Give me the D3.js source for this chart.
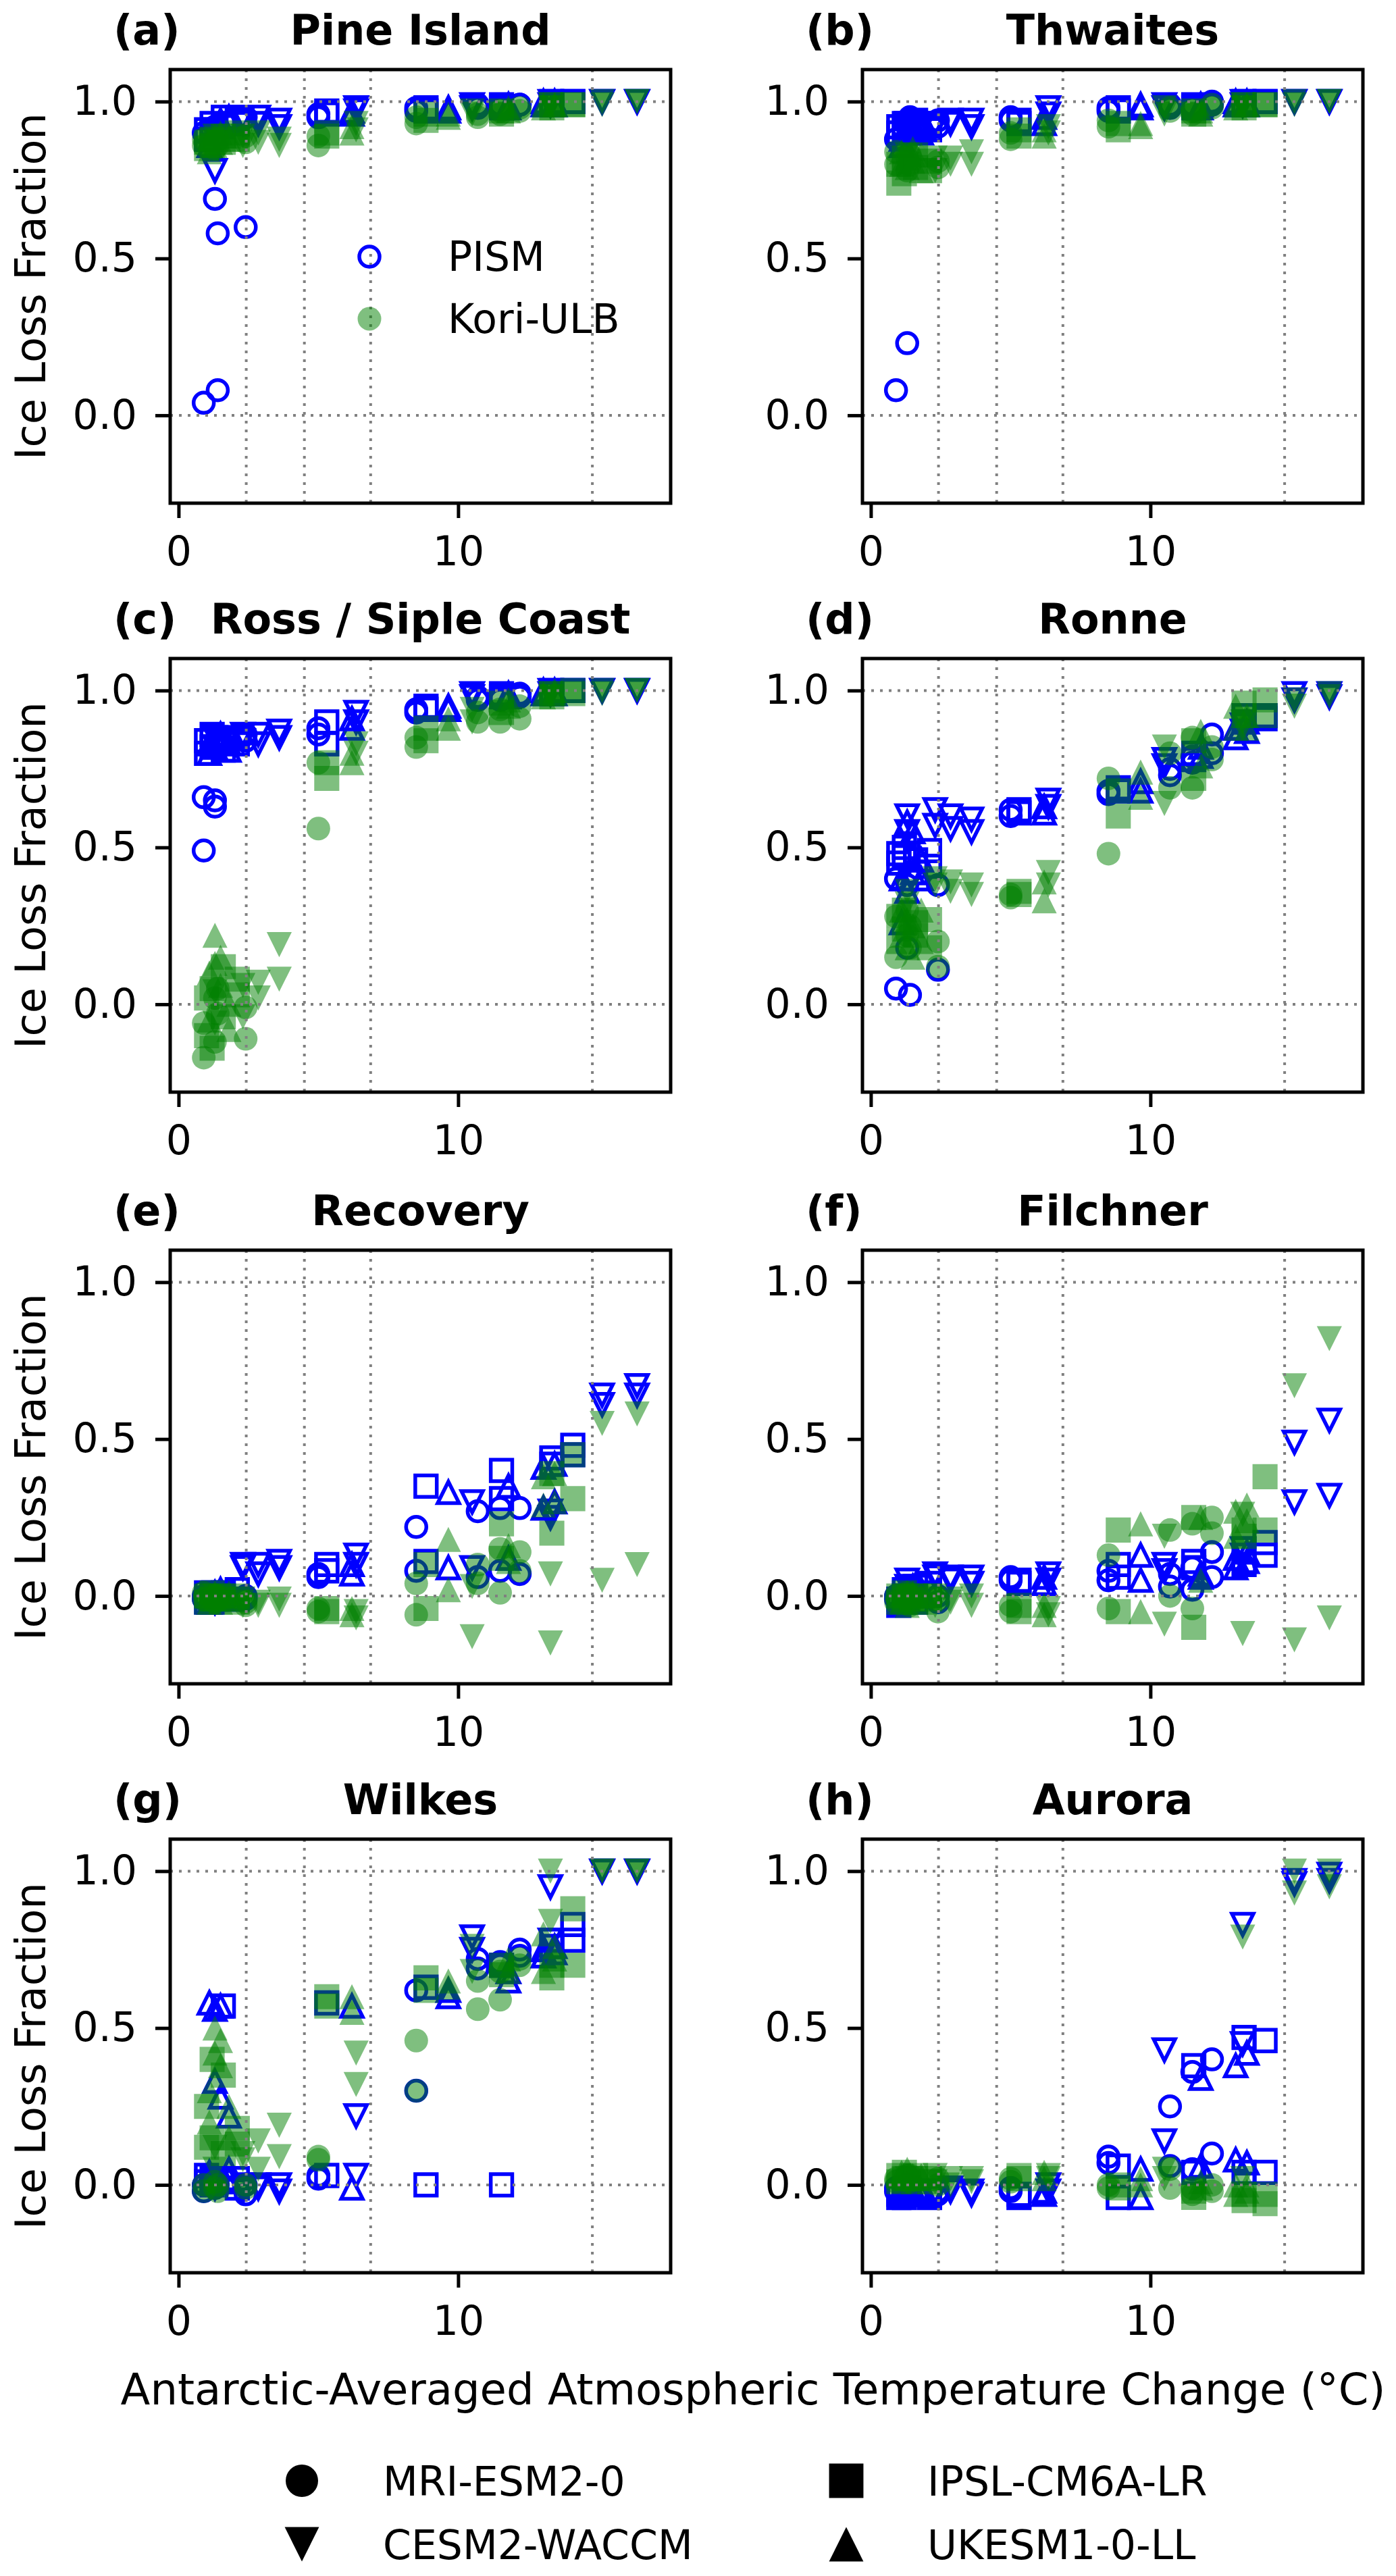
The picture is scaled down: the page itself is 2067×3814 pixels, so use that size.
<!DOCTYPE html>
<html>
<head>
<meta charset="utf-8">
<script src="https://d3js.org/d3.v7.min.js"></script>
<style>
  body { margin: 0; background: #fff; }
  text { font-family: "DejaVu Sans", sans-serif; }
</style>
</head>
<body>
<script>
// warming of each run, per climate model (low / mid / high forcing)
var tempMRI   = [0.9, 1.3, 1.4, 2.4, 5.0, 8.5, 10.7, 11.5, 12.2];
var tempIPSL  = [1.0, 1.2, 1.6, 2.1, 5.3, 8.85, 11.55, 13.35, 14.1];
var tempCESM  = [1.3, 2.3, 2.85, 3.6, 6.35, 10.5, 13.3, 15.15, 16.4];
var tempUKESM = [1.1, 1.3, 1.5, 1.8, 6.2, 9.65, 11.8, 13.05, 13.45];

var climateModels = ["MRI-ESM2-0", "IPSL-CM6A-LR", "CESM2-WACCM", "UKESM1-0-LL"];
var iceModels = ["PISM", "Kori-ULB"];
var regions = ["Pine Island", "Thwaites", "Ross / Siple Coast", "Ronne",
               "Recovery", "Filchner", "Wilkes", "Aurora"];
var panelLetters = ["(a)", "(b)", "(c)", "(d)", "(e)", "(f)", "(g)", "(h)"];
var xTicks = [0, 10];
var yTicks = [0, 0.5, 1];
var tempLines = [2.42, 4.5, 6.87, 14.8];
var fracLines = [0, 1];

// ice loss fraction: per climate model (MRI, IPSL, CESM, UKESM), 9 runs x 2 parameter sets
var pineIslandPISM = [
  0.04,0.90, 0.69,0.92, 0.08,0.58, 0.60,0.95, 0.96,0.95, 0.98,0.97, 0.98,0.99, 0.99,0.98, 0.99,0.99,
  0.91,0.88, 0.93,0.90, 0.95,0.92, 0.94,0.93, 0.96,0.97, 0.98,0.97, 0.99,0.98, 1.00,0.99, 1.00,1.00,
  0.78,0.91, 0.95,0.93, 0.93,0.95, 0.94,0.92, 0.98,0.97, 0.99,0.98, 1.00,0.99, 1.00,1.00, 1.00,1.00,
  0.88,0.86, 0.90,0.92, 0.93,0.94, 0.95,0.94, 0.96,0.97, 0.98,0.97, 0.99,0.98, 0.99,1.00, 1.00,0.99];
var pineIslandKori = [
  0.86,0.88, 0.87,0.85, 0.88,0.86, 0.89,0.87, 0.89,0.86, 0.93,0.95, 0.96,0.95, 0.96,0.97, 0.97,0.98,
  0.85,0.87, 0.86,0.88, 0.87,0.89, 0.88,0.90, 0.89,0.90, 0.94,0.96, 0.96,0.97, 0.98,0.99, 0.99,0.99,
  0.87,0.89, 0.89,0.86, 0.87,0.90, 0.88,0.86, 0.91,0.93, 0.96,0.97, 0.98,0.99, 1.00,0.99, 1.00,1.00,
  0.84,0.88, 0.86,0.89, 0.87,0.90, 0.88,0.89, 0.90,0.92, 0.95,0.96, 0.97,0.98, 0.98,0.99, 0.99,0.99];
var thwaitesPISM = [
  0.08,0.88, 0.23,0.92, 0.95,0.93, 0.94,0.92, 0.95,0.94, 0.98,0.97, 0.99,0.98, 0.99,0.98, 0.99,1.00,
  0.92,0.90, 0.93,0.91, 0.94,0.92, 0.93,0.91, 0.94,0.93, 0.98,0.97, 0.99,0.98, 1.00,0.99, 1.00,1.00,
  0.91,0.93, 0.93,0.92, 0.93,0.94, 0.94,0.92, 0.98,0.96, 0.99,0.98, 1.00,0.99, 1.00,1.00, 1.00,1.00,
  0.88,0.86, 0.90,0.92, 0.91,0.93, 0.92,0.90, 0.93,0.95, 0.99,0.98, 0.99,0.98, 0.99,1.00, 1.00,0.99];
var thwaitesKori = [
  0.80,0.84, 0.82,0.78, 0.83,0.80, 0.79,0.81, 0.90,0.88, 0.92,0.94, 0.97,0.98, 0.97,0.96, 0.98,0.99,
  0.74,0.80, 0.77,0.82, 0.79,0.83, 0.81,0.78, 0.89,0.91, 0.91,0.93, 0.96,0.97, 0.98,0.99, 0.99,0.99,
  0.80,0.83, 0.78,0.82, 0.82,0.80, 0.84,0.80, 0.90,0.92, 0.96,0.98, 0.98,0.99, 1.00,0.99, 1.00,1.00,
  0.80,0.84, 0.82,0.79, 0.85,0.81, 0.83,0.78, 0.89,0.91, 0.93,0.92, 0.97,0.96, 0.98,0.99, 0.99,0.99];
var rossPISM = [
  0.49,0.66, 0.65,0.63, 0.84,0.82, 0.86,0.84, 0.88,0.86, 0.93,0.94, 0.97,0.98, 0.98,0.97, 0.99,0.98,
  0.80,0.84, 0.82,0.86, 0.84,0.81, 0.85,0.83, 0.90,0.83, 0.94,0.95, 0.98,0.99, 1.00,0.99, 1.00,1.00,
  0.82,0.85, 0.84,0.86, 0.86,0.83, 0.85,0.87, 0.93,0.90, 0.98,0.99, 1.00,0.99, 1.00,1.00, 1.00,1.00,
  0.80,0.83, 0.82,0.85, 0.84,0.86, 0.83,0.81, 0.88,0.91, 0.94,0.95, 0.98,0.99, 0.99,1.00, 1.00,0.99];
var rossKori = [
  -0.17,-0.06, -0.12,0.02, -0.03,0.05, -0.11,-0.01, 0.56,0.77, 0.82,0.85, 0.90,0.93, 0.90,0.94, 0.91,0.95,
  -0.10,0.02, -0.14,0.05, 0.12,-0.04, 0.03,0.08, 0.72,0.77, 0.84,0.88, 0.93,0.96, 0.98,0.99, 0.99,1.00,
  -0.06,0.04, -0.04,0.06, 0.07,0.02, 0.19,0.08, 0.83,0.80, 0.90,0.94, 0.98,0.99, 1.00,0.99, 1.00,1.00,
  0.10,-0.05, 0.22,0.13, 0.06,0.15, 0.00,-0.08, 0.80,0.77, 0.88,0.91, 0.95,0.97, 0.98,0.99, 0.99,1.00];
var ronnePISM = [
  0.05,0.40, 0.18,0.38, 0.03,0.42, 0.11,0.38, 0.62,0.60, 0.67,0.68, 0.73,0.75, 0.77,0.79, 0.80,0.86,
  0.45,0.48, 0.47,0.50, 0.46,0.42, 0.49,0.44, 0.62,0.61, 0.68,0.69, 0.80,0.78, 0.92,0.90, 0.92,0.91,
  0.60,0.55, 0.62,0.57, 0.60,0.56, 0.59,0.55, 0.65,0.63, 0.78,0.76, 0.89,0.87, 0.99,0.97, 0.99,0.98,
  0.26,0.40, 0.36,0.58, 0.42,0.55, 0.40,0.46, 0.63,0.61, 0.71,0.68, 0.79,0.82, 0.85,0.88, 0.90,0.87];
var ronneKori = [
  0.15,0.28, 0.22,0.30, 0.18,0.25, 0.12,0.20, 0.35,0.34, 0.48,0.72, 0.69,0.80, 0.69,0.85, 0.78,0.82,
  0.20,0.28, 0.24,0.30, 0.22,0.26, 0.18,0.27, 0.35,0.36, 0.60,0.68, 0.72,0.84, 0.92,0.96, 0.92,0.97,
  0.36,0.32, 0.38,0.40, 0.36,0.39, 0.38,0.35, 0.38,0.42, 0.64,0.82, 0.90,0.88, 0.97,0.95, 0.98,0.99,
  0.22,0.30, 0.18,0.27, 0.25,0.15, 0.20,0.30, 0.33,0.39, 0.66,0.74, 0.76,0.87, 0.88,0.95, 0.88,0.92];
var recoveryPISM = [
  -0.01,0.00, 0.00,-0.02, 0.01,-0.01, -0.01,0.00, 0.07,0.06, 0.22,0.08, 0.27,0.06, 0.28,0.08, 0.28,0.07,
  -0.02,0.01, 0.00,-0.02, 0.01,0.00, 0.02,-0.01, 0.10,0.08, 0.35,0.11, 0.40,0.31, 0.44,0.42, 0.48,0.45,
  0.01,-0.02, 0.10,0.09, 0.07,0.10, 0.11,0.09, 0.13,0.10, 0.30,0.09, 0.27,0.25, 0.64,0.61, 0.67,0.64,
  0.00,-0.02, 0.01,-0.01, 0.02,0.00, -0.01,0.01, 0.07,0.10, 0.33,0.09, 0.35,0.12, 0.41,0.28, 0.42,0.30];
var recoveryKori = [
  -0.01,0.01, 0.00,-0.02, -0.01,0.00, -0.03,-0.02, -0.04,-0.05, 0.04,-0.06, 0.04,0.10, 0.15,0.01, 0.14,0.08,
  0.00,-0.02, -0.01,0.01, 0.00,-0.01, -0.02,0.00, -0.04,-0.05, -0.04,0.10, 0.12,0.23, 0.20,0.39, 0.31,0.45,
  -0.02,0.00, -0.03,-0.01, -0.02,-0.03, -0.03,-0.01, -0.05,-0.07, 0.03,-0.13, 0.07,-0.15, 0.55,0.05, 0.58,0.10,
  0.00,-0.02, 0.01,-0.01, -0.02,0.00, -0.01,0.01, -0.06,-0.04, 0.18,0.02, 0.16,0.11, 0.38,0.29, 0.30,0.39];
var filchnerPISM = [
  -0.01,0.00, 0.01,-0.02, 0.00,-0.01, -0.02,0.00, 0.06,0.05, 0.08,0.05, 0.07,0.03, 0.09,0.02, 0.14,0.06,
  -0.03,-0.01, 0.00,0.02, 0.03,-0.02, 0.04,0.01, 0.05,0.04, 0.10,0.06, 0.11,0.09, 0.15,0.10, 0.17,0.13,
  0.05,0.03, 0.07,0.06, 0.06,0.05, 0.06,0.04, 0.07,0.05, 0.10,0.08, 0.15,0.13, 0.49,0.30, 0.56,0.32,
  -0.02,0.00, 0.01,-0.01, 0.02,0.03, 0.00,0.02, 0.04,0.06, 0.13,0.05, 0.07,0.06, 0.09,0.12, 0.11,0.14];
var filchnerKori = [
  -0.02,0.00, -0.01,0.01, -0.03,0.00, -0.05,-0.01, -0.03,-0.05, 0.13,-0.04, 0.21,0.00, 0.23,-0.04, 0.20,0.25,
  0.00,-0.02, -0.01,0.01, 0.00,-0.02, -0.01,0.00, -0.05,-0.03, 0.21,-0.05, 0.25,-0.10, 0.21,0.19, 0.38,0.21,
  -0.02,0.00, 0.00,-0.03, -0.02,-0.01, -0.03,0.00, -0.04,-0.06, 0.19,-0.09, 0.26,-0.12, 0.67,-0.14, 0.82,-0.07,
  0.00,-0.02, 0.01,-0.03, -0.01,0.01, 0.00,-0.02, -0.06,-0.03, 0.23,-0.05, 0.25,0.05, 0.27,0.19, 0.29,0.24];
var wilkesPISM = [
  0.00,-0.02, 0.01,-0.01, 0.02,0.00, -0.03,0.00, 0.03,0.02, 0.62,0.30, 0.69,0.72, 0.70,0.71, 0.75,0.73,
  0.01,0.03, 0.00,0.02, 0.57,0.01, 0.02,-0.01, 0.58,0.03, 0.63,0.00, 0.70,0.00, 0.78,0.76, 0.83,0.78,
  0.01,-0.01, 0.00,-0.02, -0.01,0.00, -0.02,0.00, 0.22,0.03, 0.79,0.75, 0.95,0.78, 1.00,1.00, 1.00,1.00,
  0.58,0.04, 0.56,0.33, 0.57,0.28, 0.22,0.05, 0.57,-0.01, 0.62,0.60, 0.68,0.65, 0.73,0.75, 0.76,0.74];
var wilkesKori = [
  -0.02,0.00, -0.01,0.01, 0.00,-0.02, -0.01,0.00, 0.09,0.08, 0.46,0.30, 0.56,0.65, 0.59,0.68, 0.70,0.72,
  0.25,0.12, 0.40,0.15, 0.35,0.10, 0.18,0.13, 0.57,0.60, 0.62,0.66, 0.67,0.70, 0.66,0.70, 0.70,0.88,
  0.12,0.05, 0.08,0.10, 0.14,0.05, 0.19,0.09, 0.42,0.32, 0.68,0.76, 1.00,0.84, 1.00,1.00, 1.00,1.00,
  0.30,0.20, 0.50,0.42, 0.46,0.38, 0.25,0.15, 0.60,0.55, 0.63,0.65, 0.68,0.72, 0.68,0.80, 0.76,0.72];
var auroraPISM = [
  -0.01,-0.02, 0.00,-0.03, -0.02,-0.01, -0.03,-0.02, -0.02,-0.01, 0.09,0.07, 0.25,0.06, 0.36,0.05, 0.40,0.10,
  -0.03,-0.04, -0.02,-0.04, -0.03,-0.02, -0.04,-0.03, -0.04,-0.03, 0.06,-0.04, 0.38,0.04, 0.47,0.04, 0.46,0.04,
  -0.01,-0.02, -0.02,-0.03, -0.01,-0.02, -0.03,-0.02, 0.00,-0.02, 0.43,0.14, 0.83,0.45, 0.97,0.96, 0.99,0.97,
  -0.01,-0.02, 0.00,-0.03, -0.02,-0.01, -0.03,-0.02, -0.02,-0.03, 0.05,-0.04, 0.34,0.06, 0.38,0.08, 0.42,0.07];
var auroraKori = [
  0.02,0.01, 0.03,0.02, 0.01,0.03, 0.02,0.00, 0.02,0.01, 0.00,-0.01, -0.01,0.05, -0.03,-0.01, 0.00,-0.02,
  0.03,0.01, 0.02,0.04, 0.03,0.02, 0.01,0.02, 0.02,0.03, 0.00,-0.01, -0.04,-0.02, -0.05,-0.03, -0.06,-0.03,
  0.02,0.01, 0.03,0.01, 0.02,0.00, 0.01,0.02, 0.03,0.02, 0.05,0.02, 0.79,0.02, 1.00,0.93, 1.00,0.95,
  0.03,0.04, 0.05,0.02, 0.03,0.01, 0.02,0.03, 0.04,0.02, 0.02,0.00, 0.01,-0.01, 0.00,-0.03, -0.02,0.00];

var pismSeries = [pineIslandPISM, thwaitesPISM, rossPISM, ronnePISM,
                  recoveryPISM, filchnerPISM, wilkesPISM, auroraPISM];
var koriSeries = [pineIslandKori, thwaitesKori, rossKori, ronneKori,
                  recoveryKori, filchnerKori, wilkesKori, auroraKori];
var temps = [tempMRI, tempIPSL, tempCESM, tempUKESM];

// matplotlib-like marker shapes (size = edge length squared)
var mkCircle = { draw: function(c, s) { var r = Math.sqrt(s) / 2; c.moveTo(r, 0); c.arc(0, 0, r, 0, 2 * Math.PI); } };
var mkSquare = { draw: function(c, s) { var h = Math.sqrt(s) * 0.53; c.rect(-h, -h, 2 * h, 2 * h); } };
var mkDown = { draw: function(c, s) { var h = Math.sqrt(s) * 0.53; c.moveTo(0, h); c.lineTo(h, -h); c.lineTo(-h, -h); c.closePath(); } };
var mkUp = { draw: function(c, s) { var h = Math.sqrt(s) * 0.53; c.moveTo(0, -h); c.lineTo(h, h); c.lineTo(-h, h); c.closePath(); } };
var shapes = [mkCircle, mkSquare, mkDown, mkUp];

var W = 2067, H = 3814;
var colLeft = [252, 1277], plotW = 741;
var rowTop = [103, 975, 1851, 2723], plotH = 642;
var fs = 60;

var svg = d3.select("body").append("svg")
    .attr("width", W).attr("height", H);
svg.append("rect").attr("width", W).attr("height", H).attr("fill", "#fff");

var x = d3.scaleLinear().domain([-0.3, 17.6]).range([0, plotW]);
var y = d3.scaleLinear().domain([-0.28, 1.102]).range([plotH, 0]);

function rows(series) {
  var out = [];
  temps.forEach(function(t, m) {
    t.forEach(function(tv, k) {
      for (var v = 0; v < 2; v++) out.push({ t: tv, f: series[m * 18 + k * 2 + v], m: m });
    });
  });
  return out;
}

regions.forEach(function(name, i) {
  var col = i % 2, row = Math.floor(i / 2);
  var g = svg.append("g")
      .attr("transform", "translate(" + colLeft[col] + "," + rowTop[row] + ")");

  // PISM, open blue
  g.append("g").selectAll("path")
    .data(rows(pismSeries[i]))
    .join("path")
      .attr("transform", function(d) { return "translate(" + x(d.t) + "," + y(d.f) + ")"; })
      .attr("d", function(d) { return d3.symbol(shapes[d.m], 30 * 30)(); })
      .attr("fill", "none")
      .attr("stroke", "#0000ff")
      .attr("stroke-width", 5.5);

  // Kori-ULB, translucent green
  g.append("g").selectAll("path")
    .data(rows(koriSeries[i]))
    .join("path")
      .attr("transform", function(d) { return "translate(" + x(d.t) + "," + y(d.f) + ")"; })
      .attr("d", function(d) { return d3.symbol(shapes[d.m], 35 * 35)(); })
      .attr("fill", "#008000")
      .attr("fill-opacity", 0.5);

  // dotted reference lines
  g.selectAll(".vl").data(tempLines).join("line")
      .attr("x1", function(d) { return x(d); }).attr("x2", function(d) { return x(d); })
      .attr("y1", 0).attr("y2", plotH)
      .attr("stroke", "#808080").attr("stroke-width", 4).attr("stroke-dasharray", "4,9");
  g.selectAll(".hl").data(fracLines).join("line")
      .attr("x1", 0).attr("x2", plotW)
      .attr("y1", function(d) { return y(d); }).attr("y2", function(d) { return y(d); })
      .attr("stroke", "#808080").attr("stroke-width", 4).attr("stroke-dasharray", "4,9");

  // axes
  var ya = g.append("g").call(d3.axisLeft(y).tickValues(yTicks)
      .tickFormat(d3.format(".1f")).tickSize(22).tickPadding(27));
  var xa = g.append("g").attr("transform", "translate(0," + plotH + ")")
      .call(d3.axisBottom(x).tickValues(xTicks).tickFormat(d3.format("d"))
      .tickSize(22).tickPadding(27));
  [ya, xa].forEach(function(a) {
    a.select(".domain").remove();
    a.selectAll("line").attr("stroke-width", 5);
    a.selectAll("text").attr("font-size", fs).attr("font-family", "DejaVu Sans").attr("fill", "#000");
  });

  g.append("rect").attr("width", plotW).attr("height", plotH)
      .attr("fill", "none").attr("stroke", "#000").attr("stroke-width", 5);

  // titles
  g.append("text").attr("x", -84).attr("y", -37)
      .attr("font-size", 62).attr("font-weight", "bold").text(panelLetters[i]);
  g.append("text").attr("x", plotW / 2).attr("y", -37).attr("text-anchor", "middle")
      .attr("font-size", 62).attr("font-weight", "bold").text(name);

  if (col === 0) {
    svg.append("text")
        .attr("transform", "translate(67," + (rowTop[row] + plotH / 2) + ") rotate(-90)")
        .attr("text-anchor", "middle").attr("font-size", 62)
        .text("Ice Loss Fraction");
  }

  if (i === 0) {
    // ice-model legend inside panel (a)
    var lg = g.append("g").attr("transform", "translate(295,277)");
    lg.append("path").attr("d", d3.symbol(mkCircle, 30 * 30)())
        .attr("fill", "none").attr("stroke", "#0000ff").attr("stroke-width", 5.5);
    lg.append("text").attr("x", 116).attr("y", 21).attr("font-size", fs).text(iceModels[0]);
    lg.append("path").attr("transform", "translate(0,92)").attr("d", d3.symbol(mkCircle, 35 * 35)())
        .attr("fill", "#008000").attr("fill-opacity", 0.5);
    lg.append("text").attr("x", 116).attr("y", 113).attr("font-size", fs).text(iceModels[1]);
  }
});

svg.append("text").attr("x", 1115).attr("y", 3560).attr("text-anchor", "middle")
    .attr("font-size", 64)
    .text("Antarctic-Averaged Atmospheric Temperature Change (\u00B0C)");

// climate-model legend
var legX = [447, 1253], legY = [3673, 3767];
climateModels.forEach(function(name, m) {
  var lx = legX[m % 2], ly = legY[Math.floor(m / 2)];
  svg.append("path").attr("transform", "translate(" + lx + "," + ly + ")")
      .attr("d", d3.symbol(shapes[m], 48 * 48)()).attr("fill", "#000");
  svg.append("text").attr("x", lx + 120).attr("y", ly + 22).attr("font-size", fs).text(name);
});
</script>
</body>
</html>
